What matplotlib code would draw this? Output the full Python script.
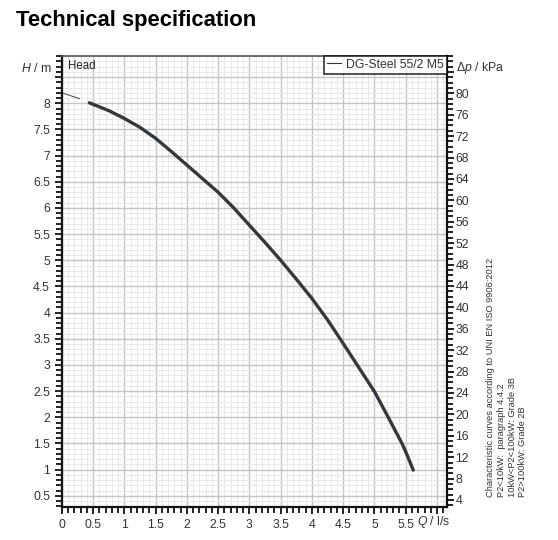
import numpy as np
import matplotlib
matplotlib.use("Agg")
import matplotlib.pyplot as plt
from matplotlib.lines import Line2D
from matplotlib.ticker import MultipleLocator

plt.rcParams['font.family'] = ['Liberation Sans', 'DejaVu Sans']
plt.rcParams['mathtext.fontset'] = 'custom'
plt.rcParams['mathtext.rm'] = 'Liberation Sans'
plt.rcParams['mathtext.it'] = 'Liberation Sans:italic'

# pump curve
flow = [0.44, 0.5, 0.75, 1.0, 1.25, 1.5, 1.75, 2.0, 2.25, 2.5, 2.75, 3.0, 3.25,
        3.5, 3.75, 4.0, 4.25, 4.5, 4.75, 5.0, 5.22, 5.44, 5.5, 5.62]
head = [8.01, 7.98, 7.86, 7.71, 7.54, 7.33, 7.08, 6.82, 6.56, 6.30, 6.00, 5.67, 5.34,
        5.00, 4.64, 4.27, 3.86, 3.41, 2.95, 2.49, 2.00, 1.50, 1.34, 0.99]
# thin extension towards zero flow
lead_flow = [0.0, 0.28]
lead_head = [8.20, 8.09]

pump_name = 'DG-Steel 55/2 M5'
notes = ['Characteristic curves according to UNI EN ISO 9906:2012',
         'P2<10kW:  paragraph 4.4.2',
         '10kW<P2<100kW: Grade 3B',
         'P2>100kW: Grade 2B']

fig = plt.figure(figsize=(5.58, 5.40), dpi=100)
ax = fig.add_axes([0.1108, 0.0606, 0.6903, 0.8363])
ax.set_xlim(0, 6.16)
ax.set_ylim(0.28, 8.91)

#grid
ax.xaxis.set_major_locator(MultipleLocator(0.5))
ax.xaxis.set_minor_locator(MultipleLocator(0.1))
ax.yaxis.set_major_locator(MultipleLocator(0.5))
ax.yaxis.set_minor_locator(MultipleLocator(0.1))
ax.grid(which='major', color='#c4c4c4', lw=1.0)
ax.grid(which='minor', color='#e8e8e8', lw=0.7)
ax.set_axisbelow(True)
ax.xaxis.set_major_formatter(lambda v, p: ('%g' % v) if v < 5.9 else '')
ax.yaxis.set_major_formatter(lambda v, p: ('%g' % v) if v < 8.3 else '')

ax.tick_params(which='both', direction='out', width=1.4, color='#222222',
               labelsize=8.8, labelcolor='#333333')
ax.tick_params(which='major', length=5)
ax.tick_params(which='minor', length=4)
ax.tick_params(axis='y', which='both', right=False)
ax.tick_params(axis='x', which='both', top=False)
for s in ['left', 'bottom']:
    ax.spines[s].set_linewidth(1.6)
    ax.spines[s].set_color('#111111')
ax.spines['top'].set_color('#555555')
ax.spines['top'].set_linewidth(1.2)
ax.spines['right'].set_visible(False)

# curve
ax.plot(lead_flow, lead_head, color='#555555', lw=0.8)
ax.plot(flow, head, color='#33383d', lw=2.4, solid_capstyle='round',
        solid_joinstyle='round')

# pressure axis
ax2 = ax.twinx()
ax2.set_ylim(2.64, 87.03)
ax2.yaxis.set_major_locator(MultipleLocator(4))
ax2.yaxis.set_minor_locator(MultipleLocator(1))
ax2.yaxis.set_major_formatter(lambda v, p: ('%g' % v) if v < 83 else '')
ax2.tick_params(which='both', direction='out', width=1.4, color='#222222',
                labelsize=8.8, labelcolor='#333333', pad=1)
ax2.tick_params(which='major', length=5)
ax2.tick_params(which='minor', length=4)
ax2.spines['right'].set_linewidth(1.6)
ax2.spines['right'].set_color('#111111')
for s in ['left', 'top', 'bottom']:
    ax2.spines[s].set_visible(False)

leg = ax2.legend(handles=[Line2D([], [], color='#333333', lw=0.8)], labels=[pump_name],
                 loc='upper right', borderaxespad=0, handlelength=1.2, handletextpad=0.4,
                 fancybox=False, edgecolor='black', fontsize=8.8, borderpad=0.25)
leg.get_frame().set_linewidth(1.2)
for t in leg.get_texts():
    t.set_color('#333333')

ax.text(0.015, 0.99, 'Head', transform=ax.transAxes, ha='left', va='top',
        fontsize=8.3, color='#222222')

fig.text(0.0932, 0.874, '$H$ / m', ha='right', va='center', fontsize=8.8, color='#333333')
fig.text(0.817, 0.874, r'$\Delta p$ / kPa', ha='left', va='center', fontsize=8.8, color='#333333')
fig.text(0.748, 0.0333, '$Q$ / l/s', ha='left', va='center', fontsize=8.8, color='#333333')

fig.text(0.871, 0.0796, '\n'.join(notes), rotation=90, ha='left', va='bottom',
         fontsize=6.7, color='#333333', linespacing=1.25)

fig.text(0.028, 0.962, 'Technical specification', ha='left', va='center',
         fontsize=15.8, fontweight='bold', color='black')

fig.savefig('out.png', dpi=100)
